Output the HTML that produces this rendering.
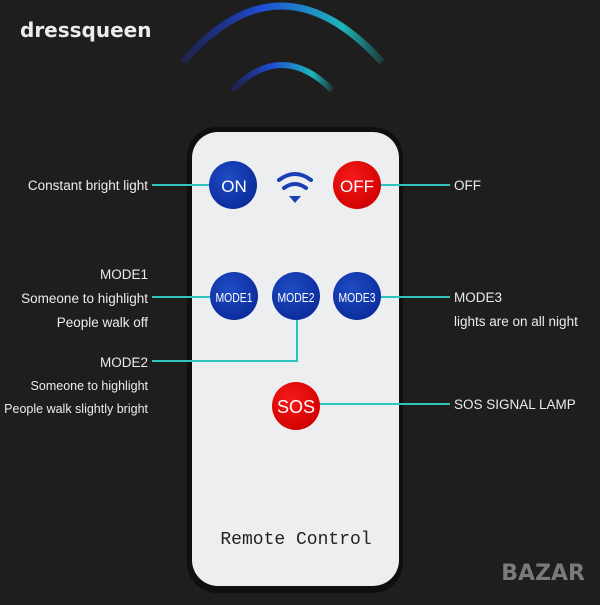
<!DOCTYPE html>
<html><head><meta charset="utf-8"><style>
body{margin:0;width:600px;height:600px;background:#1e1e1e;overflow:hidden;font-family:"Liberation Sans",sans-serif}
</style></head><body>
<svg width="600" height="600" viewBox="0 0 600 600" xmlns="http://www.w3.org/2000/svg">
<defs>
<linearGradient id="g" x1="0" x2="1" y1="0" y2="0">
<stop offset="0" stop-color="#1a2fb0" stop-opacity="0.3"/><stop offset="0.4" stop-color="#1f4fd8"/><stop offset="0.8" stop-color="#1fb5b8"/><stop offset="1" stop-color="#1fb5b8" stop-opacity="0.2"/></linearGradient>
<radialGradient id="bb" cx="0.4" cy="0.35" r="0.7"><stop offset="0" stop-color="#1f4cc4"/><stop offset="1" stop-color="#0a2a9a"/></radialGradient>
<radialGradient id="rb" cx="0.4" cy="0.35" r="0.7"><stop offset="0" stop-color="#f51a1a"/><stop offset="1" stop-color="#d00000"/></radialGradient>
</defs>
<text x="20" y="37" fill="#ececec" font-size="20" font-weight="bold" font-family="DejaVu Sans, sans-serif">dressqueen</text>
<path d="M183 62 Q280 -50 382 62" fill="none" stroke="url(#g)" stroke-width="7"/>
<path d="M232 90 Q282 40 332 90" fill="none" stroke="url(#g)" stroke-width="6"/>
<rect x="187" y="127" width="216" height="466" rx="30" fill="#0f0f0f"/>
<rect x="192" y="132" width="207" height="454" rx="26" fill="#eceef0"/>
<g stroke="#2cc5bd" stroke-width="2" fill="none">
<line x1="152" y1="185" x2="212" y2="185"/>
<line x1="378" y1="185" x2="450" y2="185"/>
<line x1="152" y1="297" x2="216" y2="297"/>
<line x1="375" y1="297" x2="450" y2="297"/>
<polyline points="152,361 297,361 297,318"/>
<line x1="314" y1="404" x2="450" y2="404"/>
</g>
<circle cx="233" cy="185" r="24" fill="url(#bb)"/>
<circle cx="357" cy="185" r="24" fill="url(#rb)"/>
<circle cx="234" cy="296" r="24" fill="url(#bb)"/>
<circle cx="296" cy="296" r="24" fill="url(#bb)"/>
<circle cx="357" cy="296" r="24" fill="url(#bb)"/>
<circle cx="296" cy="406" r="24" fill="url(#rb)"/>
<g fill="#fff" text-anchor="middle" font-family="Liberation Sans, sans-serif">
<text x="234" y="192" font-size="17">ON</text>
<text x="357" y="192" font-size="17">OFF</text>
<text x="234" y="302" font-size="13" transform="translate(234 0) scale(0.8 1) translate(-234 0)">MODE1</text>
<text x="296" y="302" font-size="13" transform="translate(296 0) scale(0.8 1) translate(-296 0)">MODE2</text>
<text x="357" y="302" font-size="13" transform="translate(357 0) scale(0.8 1) translate(-357 0)">MODE3</text>
<text x="296" y="413" font-size="18">SOS</text>
</g>
<g fill="none" stroke="#1a3fb5" stroke-width="4" stroke-linecap="round">
<path d="M279 180 Q295 168 311 180"/>
<path d="M284 188 Q295 180 306 188"/>
</g>
<path d="M289 196 L301 196 L295 203 Z" fill="#1a3fb5"/>
<text x="296" y="544" text-anchor="middle" font-family="Liberation Mono, 'Courier New', monospace" font-size="18" fill="#222">Remote Control</text>
<g fill="#ececec" font-size="13.5" text-anchor="end">
<text x="148" y="190">Constant bright light</text>
<text x="148" y="279">MODE1</text>
<text x="148" y="303">Someone to highlight</text>
<text x="148" y="327">People walk off</text>
<text x="148" y="367">MODE2</text>
<text x="148" y="390" font-size="12.5">Someone to highlight</text>
<text x="148" y="413" font-size="12.5">People walk slightly bright</text>
</g>
<g fill="#ececec" font-size="13.5">
<text x="454" y="190">OFF</text>
<text x="454" y="302">MODE3</text>
<text x="454" y="326">lights are on all night</text>
<text x="454" y="409">SOS SIGNAL LAMP</text>
</g>
<text x="585" y="580" text-anchor="end" font-size="22" font-weight="bold" fill="#7a7a7a" font-family="DejaVu Sans, sans-serif">BAZAR</text>
</svg>
</body></html>
